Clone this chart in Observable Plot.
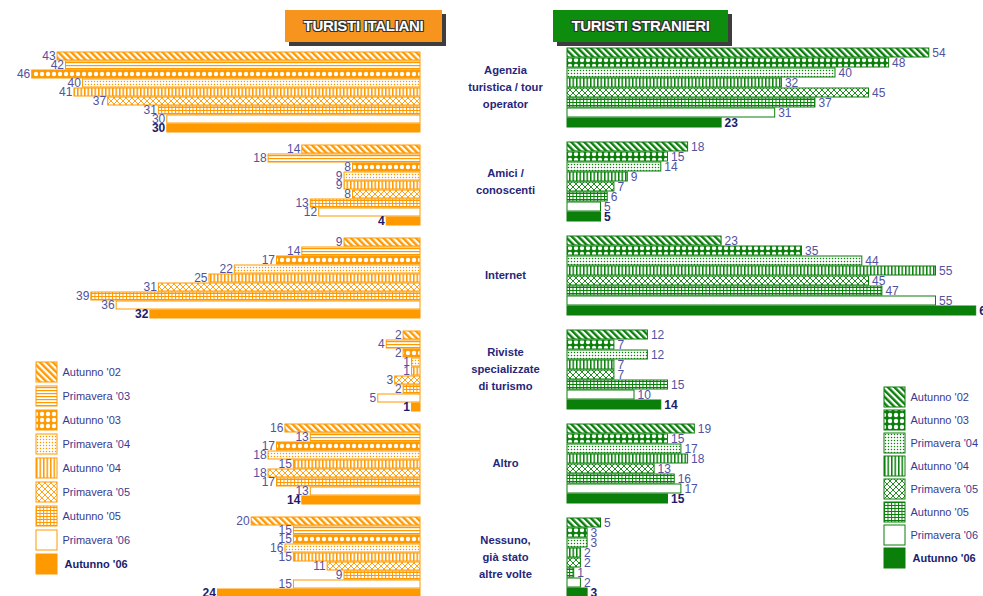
<!DOCTYPE html>
<html><head><meta charset="utf-8">
<script src="https://cdn.jsdelivr.net/npm/d3@7"></script>
<script src="https://cdn.jsdelivr.net/npm/@observablehq/plot@0.6"></script>
<style>
body{margin:0;background:#fff;font-family:"Liberation Sans",Arial,sans-serif;}
#wrap{position:relative;width:983px;height:596px;overflow:hidden;background:#fff;}
.part{position:absolute;}
.part svg{overflow:visible;max-width:none !important;}
.title{position:absolute;height:32px;line-height:32px;text-align:center;color:#fff;font-weight:bold;font-size:15px;letter-spacing:-0.3px;box-shadow:4px 4px 0 #3d3d3d;
text-shadow:-1px -1px 0 #333,1px -1px 0 #333,-1px 1px 0 #333,1px 1px 0 #333;}
</style></head><body>
<svg width="0" height="0" style="position:absolute" id="defs"></svg>
<div id="wrap"></div>
<script>
// ---------- data ----------
const categories = ["Agenzia\nturistica / tour\noperator","Amici /\nconoscenti","Internet","Riviste\nspecializzate\ndi turismo","Altro","Nessuno,\ngià stato\naltre volte"];
const seriesItaliani = ["Autunno '02","Primavera '03","Autunno '03","Primavera '04","Autunno '04","Primavera '05","Autunno '05","Primavera '06","Autunno '06"];
const seriesStranieri = ["Autunno '02","Autunno '03","Primavera '04","Autunno '04","Primavera '05","Autunno '05","Primavera '06","Autunno '06"];
const italiani = [
  [43,42,46,40,41,37,31,30,30],
  [14,18,8,9,9,8,13,12,4],
  [9,14,17,22,25,31,39,36,32],
  [2,4,2,1,1,3,2,5,1],
  [16,13,17,18,15,18,17,13,14],
  [20,15,15,16,15,11,9,15,24]
];
const stranieri = [
  [54,48,40,32,45,37,31,23],
  [18,15,14,9,7,6,5,5],
  [23,35,44,55,45,47,55,61],
  [12,7,12,7,7,15,10,14],
  [19,15,17,18,13,16,17,15],
  [5,3,3,2,2,1,2,3]
];
const titleItaliani = "TURISTI ITALIANI";
const titleStranieri = "TURISTI STRANIERI";
const lastSeries = "Autunno '06";

// ---------- styles ----------
const ORANGE = "#ff9900", GREEN = "#0a7f0a";
const LABEL = "#5252a0", LABEL_BOLD = "#1c1c6c", CAT = "#26267a";
const patternOf = {"Autunno '02":"diag","Primavera '03":"hlines","Autunno '03":"dots","Primavera '04":"fine","Autunno '04":"vlines","Primavera '05":"cross","Autunno '05":"grid","Primavera '06":"empty","Autunno '06":"solid"};

function patternDefs(id, c) {
  return `
  <pattern id="${id}-diag" patternUnits="userSpaceOnUse" width="4.6" height="4.6" patternTransform="rotate(-45)"><rect width="4.6" height="4.6" fill="#fff"/><rect width="2.4" height="4.6" fill="${c}"/></pattern>
  <pattern id="${id}-hlines" patternUnits="userSpaceOnUse" width="4" height="3"><rect width="4" height="3" fill="#fff"/><rect width="4" height="1.2" fill="${c}"/></pattern>
  <pattern id="${id}-dots" patternUnits="userSpaceOnUse" width="6" height="6"><rect width="6" height="6" fill="${c}"/><circle cx="0" cy="0" r="2.2" fill="#fff"/><circle cx="6" cy="0" r="2.2" fill="#fff"/><circle cx="0" cy="6" r="2.2" fill="#fff"/><circle cx="6" cy="6" r="2.2" fill="#fff"/></pattern>
  <pattern id="${id}-fine" patternUnits="userSpaceOnUse" width="3" height="3"><rect width="3" height="3" fill="#fff"/><circle cx="1.5" cy="1.5" r="0.75" fill="${c}"/></pattern>
  <pattern id="${id}-vlines" patternUnits="userSpaceOnUse" width="3.5" height="4"><rect width="3.5" height="4" fill="#fff"/><rect width="1.5" height="4" fill="${c}"/></pattern>
  <pattern id="${id}-cross" patternUnits="userSpaceOnUse" width="6" height="6"><rect width="6" height="6" fill="#fff"/><path d="M0,0L6,6M6,0L0,6" stroke="${c}" stroke-width="0.9"/></pattern>
  <pattern id="${id}-grid" patternUnits="userSpaceOnUse" width="3.5" height="3"><rect width="3.5" height="3" fill="#fff"/><rect width="3.5" height="1" fill="${c}"/><rect width="1" height="3" fill="${c}"/></pattern>`;
}
document.getElementById("defs").innerHTML = "<defs>" + patternDefs("o", ORANGE) + patternDefs("g", GREEN) + "</defs>";

function fillFor(id, color, s) {
  const p = patternOf[s];
  if (p === "solid") return color;
  if (p === "empty") return "#fff";
  return `url(#${id}-${p})`;
}

const rowsIT = categories.flatMap((c, i) => seriesItaliani.map((s, j) => ({cat: c, series: s, value: italiani[i][j]})));
const rowsST = categories.flatMap((c, i) => seriesStranieri.map((s, j) => ({cat: c, series: s, value: stranieri[i][j]})));

const wrap = document.getElementById("wrap");
function place(node, left, top) {
  const d = document.createElement("div");
  d.className = "part";
  d.style.left = left + "px"; d.style.top = top + "px";
  d.appendChild(node); wrap.appendChild(d);
}

// ---------- Italian panel ----------
const plotIT = Plot.plot({
  width: 450, height: 600,
  marginTop: 50, marginBottom: 0, marginLeft: 0, marginRight: 30,
  style: {fontFamily: "Liberation Sans, Arial, sans-serif", background: "transparent"},
  x: {domain: [0, 420 / 8.44], reverse: true, axis: null},
  y: {domain: seriesItaliani, axis: null, paddingInner: 0.12, paddingOuter: 0},
  fy: {domain: categories, axis: null, paddingInner: 0.136, paddingOuter: 0},
  color: {type: "identity"},
  marks: [
    Plot.barX(rowsIT, {fy: "cat", y: "series", x1: 0, x2: "value", fill: d => fillFor("o", ORANGE, d.series), stroke: ORANGE, strokeWidth: 1}),
    Plot.text(rowsIT.filter(d => d.series !== lastSeries), {fy: "cat", y: "series", x: "value", text: d => String(d.value), textAnchor: "end", dx: -2, fill: LABEL, fontSize: 12}),
    Plot.text(rowsIT.filter(d => d.series === lastSeries), {fy: "cat", y: "series", x: "value", text: d => String(d.value), textAnchor: "end", dx: -2, fill: LABEL_BOLD, fontSize: 12, fontWeight: "bold"})
  ]
});
place(plotIT, 0, 0);

// ---------- Foreign panel ----------
const plotST = Plot.plot({
  width: 533, height: 600,
  marginTop: 47, marginBottom: 1, marginLeft: 117, marginRight: 0,
  style: {fontFamily: "Liberation Sans, Arial, sans-serif", background: "transparent"},
  x: {domain: [0, 416 / 6.7], axis: null},
  y: {domain: seriesStranieri, axis: null, paddingInner: 0.14, paddingOuter: 0},
  fy: {domain: categories, axis: null, paddingInner: 0.136, paddingOuter: 0},
  color: {type: "identity"},
  marks: [
    Plot.barX(rowsST, {fy: "cat", y: "series", x1: 0, x2: "value", fill: d => fillFor("g", GREEN, d.series), stroke: GREEN, strokeWidth: 1}),
    Plot.text(rowsST.filter(d => d.series !== lastSeries), {fy: "cat", y: "series", x: "value", text: d => String(d.value), textAnchor: "start", dx: 3, fill: LABEL, fontSize: 12}),
    Plot.text(rowsST.filter(d => d.series === lastSeries), {fy: "cat", y: "series", x: "value", text: d => String(d.value), textAnchor: "start", dx: 3, fill: LABEL_BOLD, fontSize: 12, fontWeight: "bold"}),
    Plot.text(categories, {fy: d => d, text: d => d, frameAnchor: "left", dx: -62, dy: -2, textAnchor: "middle", fontWeight: "bold", fontSize: 11.2, fill: CAT, lineHeight: 1.52})
  ]
});
place(plotST, 450, 0);

// ---------- legends ----------
function legend(series, id, color, step, gap, width) {
  return Plot.plot({
    width, height: series.length * step,
    marginTop: 0, marginBottom: 0, marginLeft: 0, marginRight: width - 21,
    style: {fontFamily: "Liberation Sans, Arial, sans-serif", background: "transparent"},
    x: {domain: [0, 1], axis: null},
    y: {domain: series, axis: null, paddingInner: gap / step, paddingOuter: gap / step / 2},
    color: {type: "identity"},
    marks: [
      Plot.barX(series, {y: d => d, x1: 0, x2: 1, fill: d => fillFor(id, color, d), stroke: color, strokeWidth: 1}),
      Plot.text(series.filter(d => d !== lastSeries), {y: d => d, x: 1, text: d => d, textAnchor: "start", dx: 5, fill: "#3a3a92", fontSize: 11}),
      Plot.text(series.filter(d => d === lastSeries), {y: d => d, x: 1, text: d => d, textAnchor: "start", dx: 7, fill: LABEL_BOLD, fontSize: 11, fontWeight: "bold"})
    ]
  });
}
place(legend(seriesItaliani, "o", ORANGE, 24, 4, 112), 36, 360);
place(legend(seriesStranieri, "g", GREEN, 23, 3, 99), 884, 385);

// ---------- titles ----------
function title(text, left, width, bg) {
  const d = document.createElement("div");
  d.className = "title";
  d.style.left = left + "px"; d.style.top = "10px"; d.style.width = width + "px"; d.style.background = bg;
  d.textContent = text;
  wrap.appendChild(d);
}
title(titleItaliani, 285, 157, "#f7941d");
title(titleStranieri, 553, 175, "#0e8c0e");
</script>
</body></html>
